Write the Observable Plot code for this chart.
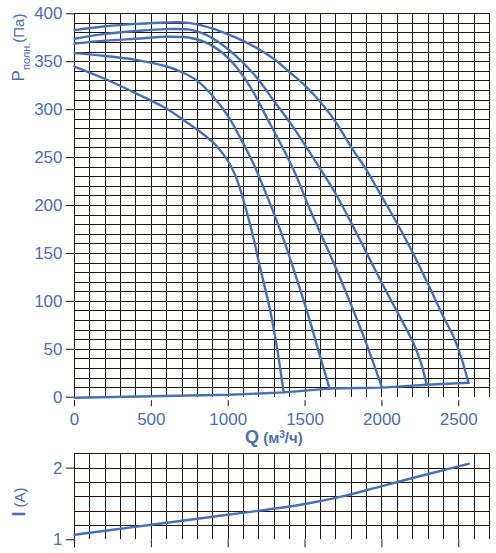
<!DOCTYPE html>
<html>
<head>
<meta charset="utf-8">
<script src="https://cdn.jsdelivr.net/npm/d3@7"></script>
<script src="https://cdn.jsdelivr.net/npm/@observablehq/plot@0.6"></script>
<style>
  html, body { margin: 0; padding: 0; background: #fff; }
  #chart { width: 496px; }
  #chart svg { display: block; }
</style>
</head>
<body>
<div id="chart"></div>
<script>
// ---- data ----
const pTicks = [0, 50, 100, 150, 200, 250, 300, 350, 400];
const qTicks = [0, 500, 1000, 1500, 2000, 2500];
const iTicks = [1, 2];
const qGridStep = 100, pGridStep = 10, iGridStep = 0.2;

// fan pressure curves [Q (m3/h), P (Pa)]
const curve1 = [[0,383],[200,387],[400,389.5],[600,391],[700,391],[800,389],[900,384.5],[1000,378.5],[1100,371.5],[1200,363],[1300,352.5],[1400,339],[1500,325],[1600,308],[1700,287],[1800,261],[1900,237],[2000,209],[2100,181],[2200,151],[2300,118],[2400,84],[2466,63],[2509,45],[2564,15]];
const curve2 = [[0,374],[200,379],[400,382],[600,384],[750,383.5],[850,378.5],[950,369],[1050,356],[1150,340],[1210,328.5],[1300,308.5],[1400,287],[1500,263],[1600,238],[1700,212],[1816,177],[1924,143],[2000,119],[2100,89],[2200,58],[2250,38],[2292,13]];
const curve3 = [[0,369],[200,372],[400,374],[600,376],[750,375],[850,370.5],[950,361],[1050,345],[1150,322],[1250,292],[1300,277],[1426,237],[1534,195],[1620,164],[1708,132],[1816,90],[1924,45],[2000,10]];
const curve4 = [[0,359],[200,356],[400,352],[600,345],[700,339],[800,330],[900,314],[1000,293],[1100,264],[1166,243],[1252,210],[1339,174],[1400,146],[1512,90],[1599,42],[1660,9]];
const curve5 = [[0,345],[200,332],[400,317],[600,301],[711,289],[800,279],[900,266],[950,257],[1000,246],[1050,230],[1100,205],[1166,165],[1205,137],[1274,90],[1317,52],[1361,5]];
// line through the end points
const systemLine = [[0,-0.5],[500,1],[1000,2.5],[1361,5],[1660,9],[2000,10],[2292,13],[2564,15]];
// current curve [Q, I (A)]
const currentCurve = [[0,1.07],[250,1.14],[500,1.21],[750,1.28],[1000,1.35],[1250,1.42],[1500,1.50],[1750,1.61],[2000,1.75],[2250,1.89],[2565,2.06]];

const qDomain = [0, 2700], pDomain = [0, 400], iDomain = [1, 2.2];

// ---- styles ----
const blue = "#4571b9";
const textBlue = "#4a6fb5";
const gridColor = "#1e1408";
const font = "'Liberation Sans', Arial, Helvetica, sans-serif";

const rows = [curve1, curve2, curve3, curve4, curve5].flatMap((c, k) =>
  c.map(([q, p]) => ({curve: k, q, p})));
const sysRows = systemLine.map(([q, p]) => ({q, p}));
const curRows = currentCurve.map(([q, i]) => ({q, i}));

const qGrid = d3.range(qDomain[0], qDomain[1] + 1, qGridStep);
const pGrid = d3.range(pGridStep, pDomain[1] + 1, pGridStep);
const iGrid = d3.range(iDomain[0] + iGridStep, iDomain[1] + 0.001, iGridStep).map(v => +v.toFixed(2));

const gridOpts = {stroke: gridColor, strokeWidth: 1, shapeRendering: "crispEdges"};

const main = Plot.plot({
  width: 496,
  height: 450,
  marginLeft: 74,
  marginRight: 7,
  marginTop: 13.3,
  marginBottom: 53.3,
  x: {domain: qDomain},
  y: {domain: pDomain},
  style: {fontFamily: font, fontSize: "17px", background: "#fff", overflow: "visible"},
  marks: [
    Plot.ruleX(qGrid, {x: d => d, ...gridOpts}),
    Plot.ruleY(pGrid, {y: d => d, ...gridOpts}),
    Plot.axisY({ticks: pTicks, tickSize: 8, tickPadding: 4, tickFormat: d => String(d), stroke: gridColor, fill: textBlue, label: null}),
    Plot.axisX({ticks: qTicks, tickSize: 6, tickPadding: 6, dy: 3.5, tickFormat: d => String(d), stroke: gridColor, fill: textBlue, label: null}),
    Plot.line(sysRows, {x: "q", y: "p", stroke: blue, strokeWidth: 2.4, curve: "linear"}),
    Plot.line(rows, {x: "q", y: "p", z: "curve", stroke: blue, strokeWidth: 2.4, curve: "catmull-rom"})
  ]
});

const lower = Plot.plot({
  width: 496,
  height: 103,
  marginLeft: 74,
  marginRight: 7,
  marginTop: 3.3,
  marginBottom: 13.7,
  x: {domain: qDomain},
  y: {domain: iDomain},
  style: {fontFamily: font, fontSize: "17px", background: "#fff", overflow: "visible"},
  marks: [
    Plot.ruleX(qGrid, {x: d => d, ...gridOpts}),
    Plot.ruleY(iGrid, {y: d => d, ...gridOpts}),
    Plot.axisY({ticks: iTicks, tickSize: 8, tickPadding: 4, tickFormat: d => String(d), stroke: gridColor, fill: textBlue, label: null}),
    Plot.axisX({ticks: qTicks, tickSize: 8, tickFormat: () => "", stroke: gridColor, label: null}),
    Plot.line(curRows, {x: "q", y: "i", stroke: blue, strokeWidth: 2.4, curve: "monotone-x"})
  ]
});

const host = document.getElementById("chart");
host.appendChild(main);
host.appendChild(lower);

// axis titles with mixed type sizes
const ms = d3.select(main);
const qt = ms.append("text")
  .attr("x", 245).attr("y", 443)
  .attr("text-anchor", "start")
  .attr("fill", textBlue).attr("font-family", font).attr("font-weight", "bold");
qt.append("tspan").attr("font-size", 18).text("Q");
qt.append("tspan").attr("font-size", 15).text(" (м");
qt.append("tspan").attr("font-size", 10).attr("baseline-shift", "super").text("3");
qt.append("tspan").attr("font-size", 15).text("/ч)");

const pt = ms.append("text")
  .attr("transform", "translate(23.5,47.5) rotate(-90)")
  .attr("text-anchor", "middle")
  .attr("fill", textBlue).attr("font-family", font);
pt.append("tspan").attr("font-size", 17).text("P");
pt.append("tspan").attr("font-size", 11).attr("baseline-shift", "sub").text("полн.");
pt.append("tspan").attr("font-size", 15).text("(Па)");

const ls = d3.select(lower);
const it = ls.append("text")
  .attr("transform", "translate(25,52) rotate(-90)")
  .attr("text-anchor", "middle")
  .attr("fill", textBlue).attr("font-family", font);
it.append("tspan").attr("font-size", 18).attr("font-weight", "bold").text("I");
it.append("tspan").attr("font-size", 15).text(" (A)");
</script>
</body>
</html>
